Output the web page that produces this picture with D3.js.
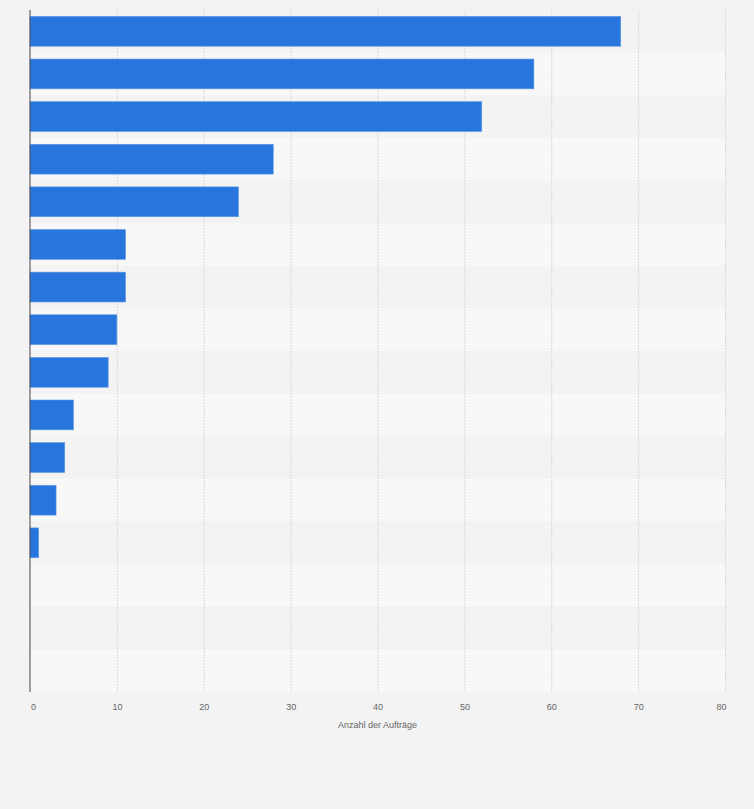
<!DOCTYPE html>
<html>
<head>
<meta charset="utf-8">
<script src="https://cdn.jsdelivr.net/npm/d3@7"></script>
<style>
  html, body { margin: 0; padding: 0; background: #f3f3f3; }
  svg { display: block; font-family: "Liberation Sans", Arial, sans-serif; }
  .grid line { stroke: #d9d9d9; stroke-dasharray: 2 1; }
  .grid path { display: none; }
  .x-axis path, .x-axis line { display: none; }
  .x-axis text { fill: #666; font-size: 9px; }
</style>
</head>
<body>
<svg class="bar-chart-svg" width="754" height="809"></svg>
<script>
// categories are not labelled in the picture, only their order is known
const categories = ['1', '2', '3', '4', '5', '6', '7', '8', '9', '10', '11', '12', '13', '14', '15', '16'];
const values = [68, 58, 52, 28, 24, 11, 11, 10, 9, 5, 4, 3, 1, 0, 0, 0];
const xTicks = [0, 10, 20, 30, 40, 50, 60, 70, 80];
const xTitle = 'Anzahl der Aufträge';

const margin = { top: 10, right: 29, bottom: 117, left: 30 };
const width = 754 - margin.left - margin.right;
const height = 809 - margin.top - margin.bottom;

const xScale = d3.scaleLinear()
  .domain([0, 80])
  .range([0, width]);

const yScale = d3.scaleBand()
  .domain(categories)
  .range([0, height])
  .paddingInner(0.3)
  .paddingOuter(0.15);

const rowScale = d3.scaleBand()
  .domain(categories)
  .range([0, height]);

const svg = d3.select('.bar-chart-svg')
  .append('g')
  .attr('transform', `translate(${margin.left}, ${margin.top})`);

// row stripes
svg.selectAll('.row')
  .data(categories)
  .enter()
  .append('rect')
  .attr('class', 'row')
  .attr('x', 0)
  .attr('y', (d) => rowScale(d))
  .attr('width', width)
  .attr('height', rowScale.bandwidth())
  .attr('fill', (d, i) => i % 2 === 0 ? '#f3f3f3' : '#f8f8f8');

// vertical grid lines
svg.append('g')
  .attr('class', 'grid')
  .attr('transform', `translate(0, ${height})`)
  .call(d3.axisBottom(xScale).tickValues(xTicks.slice(1)).tickSize(-height).tickFormat(''));

// bars
svg.selectAll('.bar')
  .data(values.map((v, i) => ({ cat: categories[i], value: v })).filter((d) => d.value > 0))
  .enter()
  .append('rect')
  .attr('class', 'bar')
  .attr('x', 0)
  .attr('y', (d) => yScale(d.cat))
  .attr('width', (d) => xScale(d.value))
  .attr('height', yScale.bandwidth())
  .attr('fill', '#2876dd')
  .attr('stroke', '#5f9ae6')
  .attr('stroke-width', 0.6);

// y axis line
svg.append('line')
  .attr('x1', 0).attr('x2', 0)
  .attr('y1', 0).attr('y2', height)
  .attr('stroke', '#444')
  .attr('stroke-width', 1);

// x axis
const xAxis = svg.append('g')
  .attr('class', 'x-axis')
  .attr('transform', `translate(0, ${height})`)
  .call(d3.axisBottom(xScale).tickValues(xTicks).tickSize(0).tickPadding(12));

// first and last labels are pulled inside the plot
xAxis.selectAll('text')
  .attr('dx', (d, i) => i === 0 ? 3 : (i === xTicks.length - 1 ? -4 : 0));

svg.append('text')
  .attr('x', width / 2)
  .attr('y', height + 36)
  .attr('text-anchor', 'middle')
  .attr('fill', '#666')
  .attr('font-size', 9)
  .text(xTitle);
</script>
</body>
</html>
